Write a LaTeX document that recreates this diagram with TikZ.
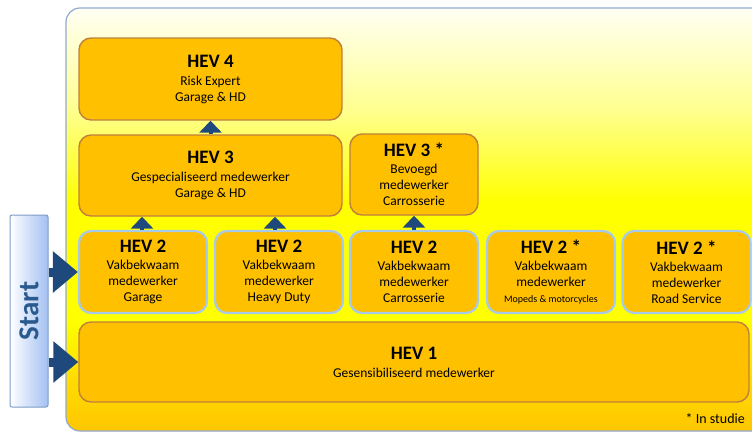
\documentclass[tikz,border=0pt]{standalone}
\usepackage{fontspec}
\setmainfont{Carlito}
\usetikzlibrary{arrows.meta}
\definecolor{boxfill}{HTML}{FFC000}
\definecolor{brownline}{HTML}{C0803C}
\definecolor{blueline}{HTML}{A6CAEC}
\definecolor{arrowblue}{HTML}{1F497D}
\definecolor{startblue}{HTML}{2A5A8E}
\definecolor{panelline}{HTML}{8FAAD0}
\definecolor{startline}{HTML}{7F9CC8}
\definecolor{startright}{HTML}{A3C0F2}
\definecolor{pgold}{HTML}{FFC600}
\definecolor{pamber}{HTML}{FFDC00}
\definecolor{pyellow}{HTML}{FFFF00}
\definecolor{plight}{HTML}{FFFF90}
\definecolor{pwhite}{HTML}{FFFFF4}
\pgfdeclareverticalshading{panelshade}{100bp}{color(0bp)=(pgold); color(25bp)=(pgold); color(31bp)=(pamber); color(38bp)=(pyellow); color(52bp)=(pyellow); color(63bp)=(plight); color(75bp)=(pwhite); color(100bp)=(pwhite)}
\newcommand{\hevtitle}[1]{{\fontsize{19}{19}\selectfont\bfseries #1}}
\begin{document}
\begin{tikzpicture}[x=1pt,y=-1pt,
  hevbox/.style={rectangle, rounded corners=12pt, fill=boxfill, draw=brownline, line width=1.4pt, align=center, inner sep=0pt, font=\fontsize{13.5}{16}\selectfont},
  hevtwo/.style={hevbox, draw=blueline, line width=2.2pt, minimum width=128pt, minimum height=82pt},
  uparrow/.style={arrowblue, line width=4pt, -{Triangle[width=22pt,length=12pt]}},
  bigarrow/.style={arrowblue, line width=9pt, -{Triangle[width=40pt,length=25pt]}}]
\useasboundingbox (0,0) rectangle (752,432);
\fill[white] (0,0) rectangle (752,432);
\path[shading=panelshade, draw=panelline, line width=1.2pt, rounded corners=14pt] (66,8) rectangle (768,431);

\node[hevbox, minimum width=263pt, minimum height=82pt] (hev4) at (210.5,79) {\hevtitle{HEV 4}\\[2pt] Risk Expert\\ Garage \& HD};
\node[hevbox, minimum width=263pt, minimum height=81pt] (hev3) at (210.5,175.5) {\hevtitle{HEV 3}\\[2pt] Gespecialiseerd medewerker\\ Garage \& HD};
\node[hevbox, minimum width=128pt, minimum height=81pt] (hev3s) at (414,174.5) {\hevtitle{HEV 3 *}\\[1pt] Bevoegd\\ medewerker\\ Carrosserie};

\node[hevtwo] (hev2a) at (143,272) {\hevtitle{HEV 2}\\[1pt] Vakbekwaam\\ medewerker\\ Garage};
\node[hevtwo] (hev2b) at (279,272) {\hevtitle{HEV 2}\\[1pt] Vakbekwaam\\ medewerker\\ Heavy Duty};
\node[hevtwo] (hev2c) at (414,272) {\hevtitle{HEV 2}\\[1pt] Vakbekwaam\\ medewerker\\ Carrosserie};
\node[hevtwo] (hev2d) at (551,272) {\hevtitle{HEV 2 *}\\[1pt] Vakbekwaam\\ medewerker\\ {\fontsize{10}{12}\selectfont Mopeds \& motorcycles}};
\node[hevtwo] (hev2e) at (686.5,272) {\hevtitle{HEV 2 *}\\[1pt] Vakbekwaam\\ medewerker\\ Road Service};

\node[hevbox, minimum width=670pt, minimum height=80pt] (hev1) at (414,362) {\hevtitle{HEV 1}\\[2pt] Gesensibiliseerd medewerker};

\node[draw=startline, line width=1pt, left color=white, right color=startright, minimum width=38pt, minimum height=192pt, inner sep=0pt, rounded corners=2pt] (start) at (29,311) {};
\node[rotate=90, text=startblue, font=\fontsize{29}{30}\selectfont\bfseries, inner sep=0pt] (starttext) at (start.center) {Start};

\draw[bigarrow] (start.east |- hev2a.west) -- (hev2a.west);
\draw[bigarrow] (start.east |- hev1.west) -- (hev1.west);

\draw[uparrow] (hev3.north) -- (hev4.south);
\draw[uparrow] ([xshift=-1pt]hev2a.north) -- ([xshift=-1pt]hev2a.north |- hev3.south);
\draw[uparrow] ([xshift=-4pt]hev2b.north) -- ([xshift=-4pt]hev2b.north |- hev3.south);
\draw[uparrow] (hev2c.north) -- (hev3s.south);

\node[anchor=base east, font=\fontsize{14}{16}\selectfont, inner sep=0pt] (note) at (745,423) {* In studie};
\end{tikzpicture}
\end{document}
